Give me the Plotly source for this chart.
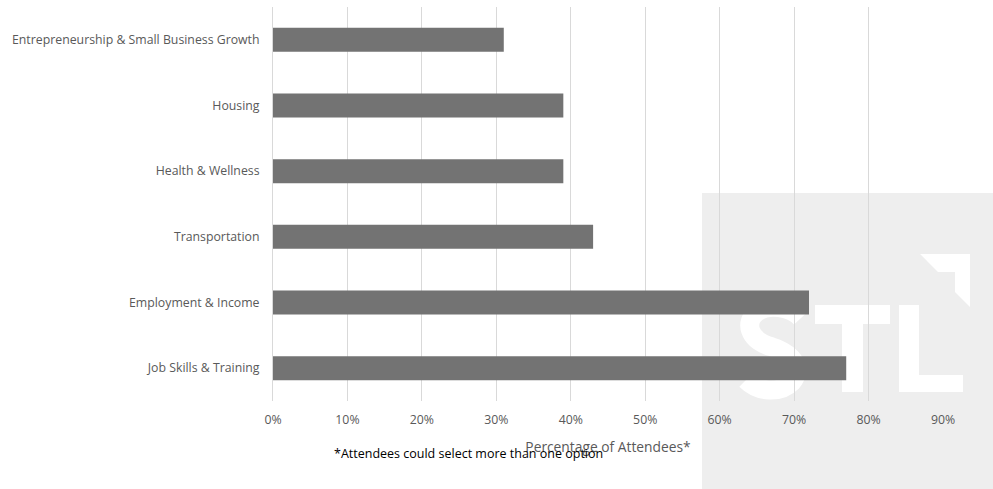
import plotly.graph_objects as go

categories = [
    "Entrepreneurship & Small Business Growth",
    "Housing",
    "Health & Wellness",
    "Transportation",
    "Employment & Income",
    "Job Skills & Training",
]
values = [0.31, 0.39, 0.39, 0.43, 0.72, 0.77]
tick_vals = [0, 0.1, 0.2, 0.3, 0.4, 0.5, 0.6, 0.7, 0.8, 0.9]
tick_text = ["0%", "10%", "20%", "30%", "40%", "50%", "60%", "70%", "80%", "90%"]

W, H = 993, 489
ML, MR, MT, MB = 273, 50, 7, 88
PW, PH = W - ML - MR, H - MT - MB


def px(x):
    return (x - ML) / PW


def py(y):
    return (H - MB - y) / PH


def path(points):
    return "M" + " L".join(f"{px(x):.4f},{py(y):.4f}" for x, y in points) + " Z"


FONT = "Open Sans"

fig = go.Figure(
    go.Bar(
        x=values,
        y=categories,
        orientation="h",
        marker=dict(color="#737373", line=dict(width=0)),
        width=0.365,
        hoverinfo="skip",
    )
)

shapes = []
# watermark panel
shapes.append(dict(type="rect", xref="paper", yref="paper", layer="below",
                   x0=px(702), x1=px(993), y0=py(489), y1=py(193),
                   fillcolor="#eeeeee", line=dict(width=0)))
wm = dict(xref="paper", yref="paper", layer="below", fillcolor="#ffffff", line=dict(width=0))
# S
s_path = (f"M{px(801):.4f},{py(318):.4f} "
          f"C{px(790):.4f},{py(306):.4f} {px(768):.4f},{py(304):.4f} {px(757):.4f},{py(312):.4f} "
          f"C{px(744):.4f},{py(322):.4f} {px(748):.4f},{py(340):.4f} {px(772):.4f},{py(347):.4f} "
          f"C{px(796):.4f},{py(355):.4f} {px(802):.4f},{py(370):.4f} {px(792):.4f},{py(382):.4f} "
          f"C{px(780):.4f},{py(394):.4f} {px(758):.4f},{py(392):.4f} {px(746):.4f},{py(380):.4f}")
shapes.append(dict(type="path", xref="paper", yref="paper", layer="below", path=s_path,
                   line=dict(color="#ffffff", width=19)))
# T
shapes.append(dict(type="path", path=path([(815, 305), (890, 305), (890, 324), (863, 324),
                                           (863, 392), (842, 392), (842, 324), (815, 324)]), **wm))
# L
shapes.append(dict(type="path", path=path([(899, 305), (919, 305), (919, 375), (963, 375),
                                           (963, 392), (899, 392)]), **wm))
# corner chevron
shapes.append(dict(type="path", path=path([(920, 254), (970, 254), (970, 307), (955, 292),
                                           (955, 272), (938, 272)]), **wm))

fig.update_layout(
    width=W, height=H,
    margin=dict(l=ML, r=MR, t=MT, b=MB),
    paper_bgcolor="#ffffff",
    plot_bgcolor="rgba(0,0,0,0)",
    showlegend=False,
    font=dict(family=FONT, size=12.3, color="#595959"),
    shapes=shapes,
    xaxis=dict(
        range=[0, 0.9],
        tickvals=tick_vals,
        ticktext=tick_text,
        showgrid=True,
        gridcolor="#d9d9d9",
        gridwidth=1,
        zeroline=False,
        showline=False,
        ticks="outside",
        ticklen=7,
        tickcolor="rgba(0,0,0,0)",
        tickfont=dict(family=FONT, size=12.3, color="#595959"),
        title=dict(text="Percentage of Attendees*", font=dict(family=FONT, size=13.8, color="#595959"),
                   standoff=15),
        fixedrange=True,
    ),
    yaxis=dict(
        autorange="reversed",
        showgrid=False,
        zeroline=False,
        showline=True,
        linecolor="#d9d9d9",
        linewidth=1,
        ticks="outside",
        ticklen=10,
        tickcolor="rgba(0,0,0,0)",
        tickfont=dict(family=FONT, size=12.3, color="#595959"),
        fixedrange=True,
    ),
    annotations=[
        dict(text="*Attendees could select more than one option", xref="paper", yref="paper",
             x=px(468), y=py(453), xanchor="center", yanchor="middle", showarrow=False,
             font=dict(family=FONT, size=12.5, color="#000000")),
    ],
)

fig.write_html("out.html", config={"displayModeBar": False},
               post_script="document.body.style.margin='0';document.body.style.padding='0';")
